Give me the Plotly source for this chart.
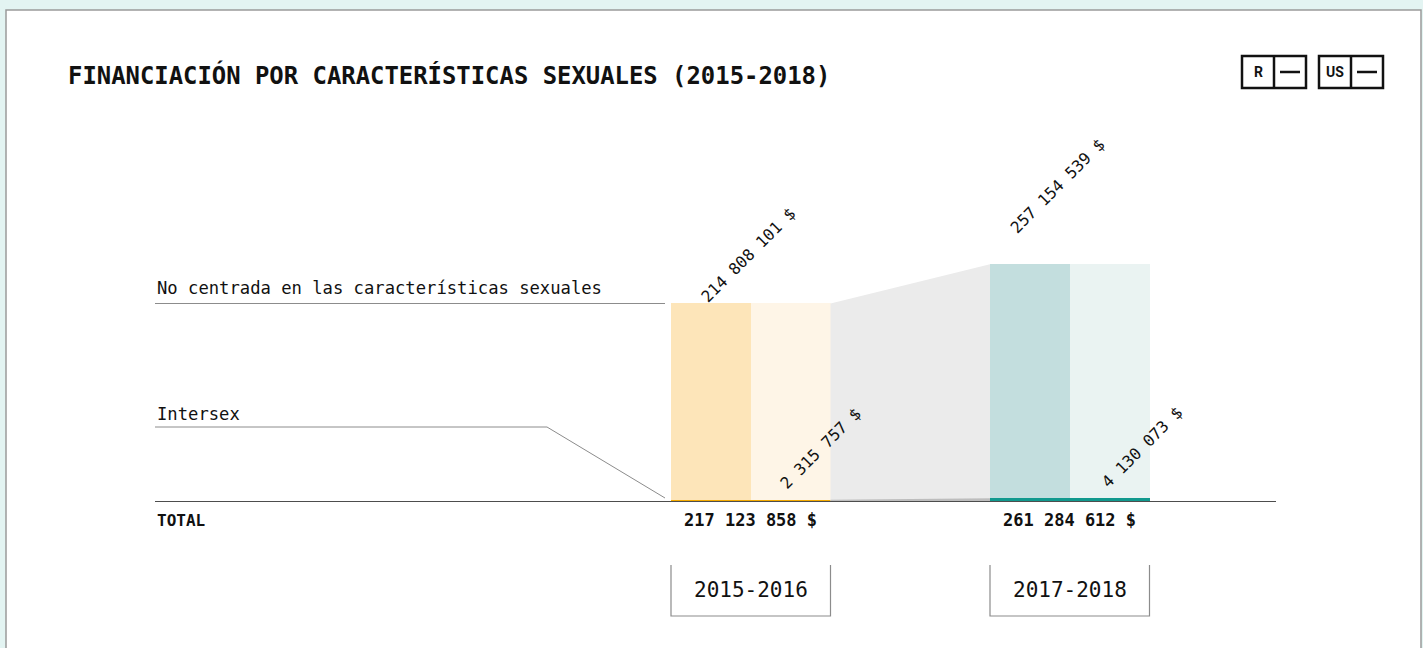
import plotly.graph_objects as go

# ---------------- data ----------------
periods = ["2015-2016", "2017-2018"]
categories = ["No centrada en las características sexuales", "Intersex"]
no_centrada = [214808101, 257154539]
intersex = [2315757, 4130073]
totals = [217123858, 261284612]

dark_cols = ["#fde5b9", "#c3dede"]
light_cols = ["#fef5e7", "#eaf3f2"]
strip_cols = ["#f5ab00", "#11998e"]

FONT = "DejaVu Sans Mono, Liberation Mono, monospace"

def money(v):
    return f"{v:,}".replace(",", " ") + " $"

# ---------------- layout geometry ----------------
W, H = 1423, 648
ML, MR, MT, MB = 155, 147, 100, 146
PW, PH = W - ML - MR, H - MT - MB
UNIT = 79.75            # px per x unit (bar half width)
X0 = -(671 - ML) / UNIT
X1 = X0 + PW / UNIT
Y_MAX = 435e6

def px(xp):
    return (xp - ML) / PW

def py(yp):
    return (H - MB - yp) / PH

# group positions (left edge of each group in x units)
group_left = [0, 4]

fig = go.Figure()

# gray connecting band
fig.add_trace(go.Scatter(
    x=[2, 4, 4, 2, 2], y=[no_centrada[0], no_centrada[1], 0, 0, no_centrada[0]],
    fill="toself", fillcolor="#ebebeb", line=dict(width=0), mode="lines",
    hoverinfo="skip", showlegend=False))
fig.add_trace(go.Scatter(
    x=[2, 4, 4, 2, 2], y=[intersex[0], intersex[1], 0, 0, intersex[0]],
    fill="toself", fillcolor="#bdbdbd", line=dict(width=0), mode="lines",
    hoverinfo="skip", showlegend=False))

# bars
fig.add_trace(go.Bar(x=[g + 0.5 for g in group_left], y=no_centrada, width=1,
                     marker=dict(color=dark_cols, line=dict(width=0)), showlegend=False))
fig.add_trace(go.Bar(x=[g + 1.5 for g in group_left], y=no_centrada, width=1,
                     marker=dict(color=light_cols, line=dict(width=0)), showlegend=False))
fig.add_trace(go.Bar(x=[g + 1 for g in group_left], y=intersex, width=2,
                     marker=dict(color=strip_cols, line=dict(width=0)), showlegend=False))

shapes = []
annotations = []

# card
shapes.append(dict(type="rect", xref="paper", yref="paper", layer="below",
                   x0=px(6), x1=px(1421), y0=py(10), y1=py(720),
                   fillcolor="white", line=dict(color="#9a9a9a", width=1.5)))

# baseline
shapes.append(dict(type="line", xref="paper", yref="y", x0=0, x1=1, y0=0, y1=0,
                   line=dict(color="#4d4d4d", width=2)))

# category guide lines
shapes.append(dict(type="line", xref="x", yref="y", x0=X0, x1=-6 / UNIT,
                   y0=no_centrada[0], y1=no_centrada[0],
                   line=dict(color="#8c8c8c", width=1.2)))
shapes.append(dict(type="path", xref="paper", yref="paper",
                   path=f"M {px(155)} {py(427)} L {px(547)} {py(427)} L {px(665)} {py(498)}",
                   line=dict(color="#8c8c8c", width=1.0)))

annotations.append(dict(xref="paper", yref="y", x=0, y=no_centrada[0], xanchor="left",
                        yanchor="bottom", yshift=3, showarrow=False, text=categories[0],
                        font=dict(family=FONT, size=17.2, color="#111")))
annotations.append(dict(xref="paper", yref="paper", x=0, y=py(427), xanchor="left",
                        yanchor="bottom", yshift=1, showarrow=False, text=categories[1],
                        font=dict(family=FONT, size=17.2, color="#111")))
annotations.append(dict(xref="paper", yref="paper", x=0, y=py(520), xanchor="left",
                        yanchor="middle", showarrow=False, text="<b>TOTAL</b>",
                        font=dict(family=FONT, size=16, color="#111")))

# value labels (rotated)
nc_shift = [(77, 48), (67, 78)]
in_shift = [(70, 51), (72, 51)]
for i, g in enumerate(group_left):
    annotations.append(dict(xref="x", yref="y", x=g, y=no_centrada[i],
                            xshift=nc_shift[i][0], yshift=nc_shift[i][1],
                            xanchor="center", yanchor="middle", textangle=-45,
                            showarrow=False, text=money(no_centrada[i]),
                            font=dict(family=FONT, size=16, color="#111")))
    annotations.append(dict(xref="x", yref="y", x=g + 1, y=intersex[i],
                            xshift=in_shift[i][0], yshift=in_shift[i][1],
                            xanchor="center", yanchor="middle", textangle=-45,
                            showarrow=False, text=money(intersex[i]),
                            font=dict(family=FONT, size=16, color="#111")))
    # totals
    annotations.append(dict(xref="x", yref="paper", x=g + 1, y=py(520),
                            xanchor="center", yanchor="middle", showarrow=False,
                            text=f"<b>{money(totals[i])}</b>",
                            font=dict(family=FONT, size=17, color="#111")))
    # period boxes
    shapes.append(dict(type="path", xref="x", yref="paper",
                       path=f"M {g} {py(565)} L {g} {py(616)} L {g + 2} {py(616)} L {g + 2} {py(565)}",
                       line=dict(color="#8c8c8c", width=1.2)))
    annotations.append(dict(xref="x", yref="paper", x=g + 1, y=py(590),
                            xanchor="center", yanchor="middle", showarrow=False,
                            text=periods[i],
                            font=dict(family=FONT, size=21, color="#111")))

# title
annotations.append(dict(xref="paper", yref="paper", x=px(66), y=py(75), xanchor="left",
                        yanchor="middle", showarrow=False,
                        text="<b>FINANCIACIÓN POR CARACTERÍSTICAS SEXUALES (2015-2018)</b>",
                        font=dict(family=FONT, size=23.9, color="#111")))

# language / currency badges
for (bx0, bdiv, bx1, lbl) in [(1242, 1274, 1306, "R"), (1319, 1351, 1383, "US")]:
    shapes.append(dict(type="rect", xref="paper", yref="paper", x0=px(bx0), x1=px(bx1),
                       y0=py(56), y1=py(88), line=dict(color="#111", width=2.5),
                       fillcolor="white"))
    shapes.append(dict(type="line", xref="paper", yref="paper", x0=px(bdiv), x1=px(bdiv),
                       y0=py(56), y1=py(88), line=dict(color="#111", width=2.5)))
    shapes.append(dict(type="line", xref="paper", yref="paper", x0=px(bdiv + 6),
                       x1=px(bx1 - 6), y0=py(72), y1=py(72), line=dict(color="#111", width=2.5)))
    annotations.append(dict(xref="paper", yref="paper", x=px((bx0 + bdiv) / 2), y=py(72),
                            xanchor="center", yanchor="middle", showarrow=False,
                            text=f"<b>{lbl}</b>",
                            font=dict(family="Roboto, DejaVu Sans, sans-serif", size=14, color="#111")))

fig.update_layout(
    width=W, height=H,
    margin=dict(l=ML, r=MR, t=MT, b=MB),
    paper_bgcolor="#e3f4f2", plot_bgcolor="rgba(0,0,0,0)",
    barmode="overlay", bargap=0,
    xaxis=dict(range=[X0, X1], visible=False, fixedrange=True),
    yaxis=dict(range=[0, Y_MAX], visible=False, fixedrange=True),
    shapes=shapes, annotations=annotations,
    showlegend=False,
)

fig.write_html("out.html", config={"displayModeBar": False},
               post_script="document.body.style.margin='0';")
